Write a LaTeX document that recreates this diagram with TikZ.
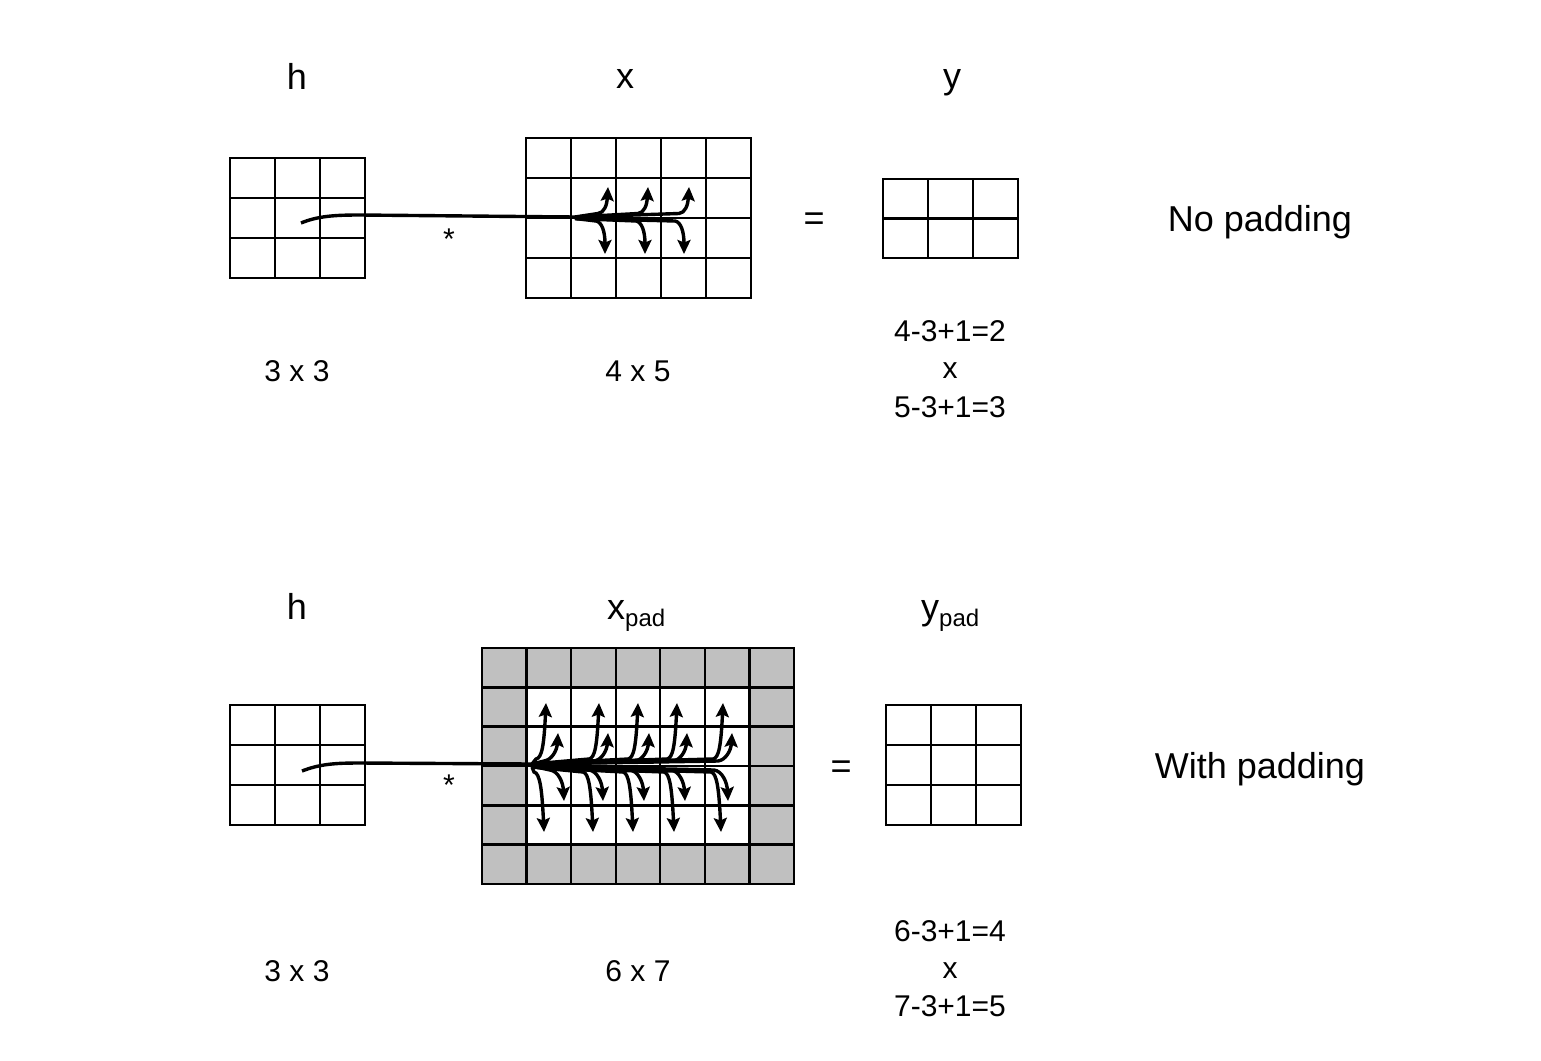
\documentclass[tikz,border=0pt]{standalone}
\usepackage{fontspec}
\setmainfont{Liberation Sans}
\usetikzlibrary{arrows.meta}
\definecolor{padgray}{HTML}{C0C0C0}
\newcommand\drawgrid[6]{%
  \draw[gridline] (#1,#2) rectangle ({#1+#3*#5},{#2+#4*#6});
  \foreach \i in {1,...,\numexpr#3-1\relax} \draw[gridline] ({#1+\i*#5},#2) -- ({#1+\i*#5},{#2+#4*#6});
  \foreach \j in {1,...,\numexpr#4-1\relax} \draw[gridline] (#1,{#2+\j*#6}) -- ({#1+#3*#5},{#2+\j*#6});
}
\begin{document}
\begin{tikzpicture}[x=1pt,y=-1pt,
  gridline/.style={line width=2.4pt},
  trunk/.style={line width=3.4pt},
  conv/.style={line width=3.4pt, -{Stealth[length=14pt,width=13pt,inset=2.5pt]}},
  big/.style={font=\fontsize{36}{42}\selectfont, inner sep=0pt, anchor=base},
  small/.style={font=\fontsize{30}{36}\selectfont, inner sep=0pt, anchor=base}]
\useasboundingbox (0,0) rectangle (1541,1060);
\fill[white] (0,0) rectangle (1541,1060);

% ---------- top row ----------
\drawgrid{230}{158}{3}{3}{45}{40}
\drawgrid{526}{138}{5}{4}{45}{40}
\drawgrid{883}{179}{3}{2}{45}{39.5}

\coordinate (sT) at (301,223);
\coordinate (bT) at (575,217);
\draw[trunk] (sT) .. controls (318,216) and (335,215) .. (360,215) -- (bT);
\foreach \t in {608,648,689}
  \draw[conv] (bT) -- ({\t-10},213.5) .. controls ({\t-4},213) and ({\t-1},205) .. (\t,187);
\foreach \t in {605,645,684}
  \draw[conv] (575,218.5) -- ({\t-9},221) .. controls ({\t-3},222) and ({\t},232) .. (\t,254);

\node[big] (hT) at (297,89) {h};
\node[big] (xT) at (625,88) {x};
\node[big] (yT) at (952,88) {y};
\node[big, anchor=center] (eqT) at (814,222) {=};
\node[small, anchor=center] (starT) at (449,239) {*};
\node[big] (npT) at (1260,231) {No padding};
\node[small] (dhT) at (297,381) {3 x 3};
\node[small] (dxT) at (638,381) {4 x 5};
\node[small] (r1T) at (950,341) {4-3+1=2};
\node[small] (r2T) at (950,378) {x};
\node[small] (r3T) at (950,417) {5-3+1=3};

% ---------- bottom row ----------
\drawgrid{230}{705}{3}{3}{45}{40}
\fill[padgray] (482,648) rectangle (794,884);
\fill[white] (526.57,687.33) rectangle (749.43,844.67);
\drawgrid{482}{648}{7}{6}{44.571}{39.333}
\drawgrid{886}{705}{3}{3}{45}{40}

\coordinate (sB) at (302,771);
\coordinate (bB) at (532,764);
\draw[trunk] (sB) .. controls (320,764) and (335,763) .. (360,763) -- (bB);
\foreach \t in {546,599,638,677,723}
  \draw[conv] (bB) -- ({\t-10},759) .. controls ({\t-4},758) and ({\t-2},745) .. (\t,703);
\foreach \t in {558,608,649,687,732}
  \draw[conv] (bB) -- ({\t-14},761) .. controls ({\t-6},760) and ({\t-1},750) .. (\t,733);
\foreach \t in {564,603,644,685,728}
  \draw[conv] (532,766) -- ({\t-14},770) .. controls ({\t-6},771) and ({\t-1},782) .. (\t,801);
\foreach \t in {544,593,633,674,721}
  \draw[conv] (532,767) -- ({\t-10},772) .. controls ({\t-4},773) and ({\t-2},790) .. (\t,832);

\node[big] (hB) at (297,619) {h};
\node[big, anchor=base west] (xB) at (607,619) {x\raisebox{-0.2em}{\fontsize{24}{28}\selectfont pad}};
\node[big, anchor=base west] (yB) at (921,619) {y\raisebox{-0.2em}{\fontsize{24}{28}\selectfont pad}};
\node[big, anchor=center] (eqB) at (841,770) {=};
\node[small, anchor=center] (starB) at (449,785) {*};
\node[big] (wpB) at (1260,778) {With padding};
\node[small] (dhB) at (297,981) {3 x 3};
\node[small] (dxB) at (638,981) {6 x 7};
\node[small] (r1B) at (950,941) {6-3+1=4};
\node[small] (r2B) at (950,978) {x};
\node[small] (r3B) at (950,1016) {7-3+1=5};
\end{tikzpicture}
\end{document}
